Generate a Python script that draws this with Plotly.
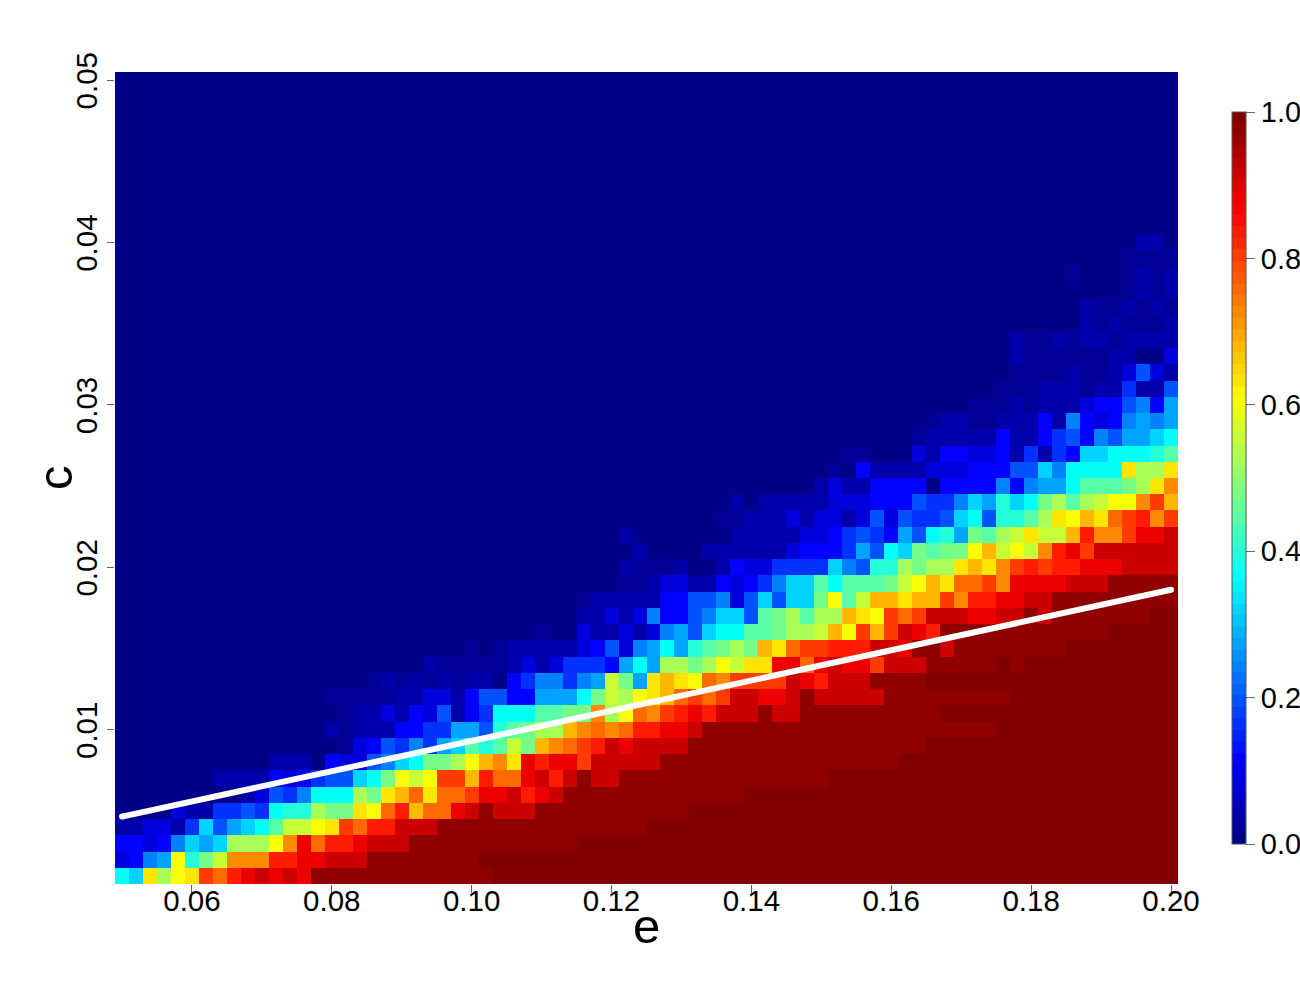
import numpy as np
import plotly.graph_objs as go

# axes
e_values = [round(0.05 + 0.002 * i, 3) for i in range(76)]
c_values = [round(0.001 * (i + 1), 3) for i in range(50)]
x_ticks = [0.06, 0.08, 0.10, 0.12, 0.14, 0.16, 0.18, 0.20]
y_ticks = [0.01, 0.02, 0.03, 0.04, 0.05]
bar_ticks = [0.0, 0.2, 0.4, 0.6, 0.8, 1.0]

# white line
line_e = [0.05, 0.20]
line_c = [0.00465, 0.01862]

# values, one char per cell, bottom row first
# '.' = 0.02, 'o' = 0.98, the rest of 0-9a-p in steps of 0.04 (p = 1.0)
codes = "0123456789abcdefghijklmnop"
rows_low = [
    "98gdfgkjlm nmnmoooooo ooooooo",
    "2367faceii illmmnnnoo oooooo",
    "33236878dd dfimjllmnn nooooooooo ooo",
    "1122148578 9beefgkjll nnnooooooo oooooooo",
    "0000211445 49aadccgfj lhjjmnonnn oooooooooo o",
    "0000000001 2546999dcg hjgjjkmmnl mnoooooooo ooooo",
    "0000000111 132345589c fefkkhljjm nlnonnoooo oooooooooo o",
    "0000000000 0111032256 89ccdfhigm lmmknnnnno oooooooooo oooooo",
    "0000000000 000000.235 46478babec hijklnmnnn nooooooooo oooooooo",
    "0000000000 000001.111 3344775abc ddhijijllm mnoooooooo oooooooooo ooo",
    "0000000000 000000.112 1325134999 bbccidfjik lmlnnnonno ooooooooo",
    "0000000000 00000..... 1122135533 7779cedfgh jkjknnmmno nnnnnooooo oooo",
    "0000000000 00000000.1 .1.1.11034 66467ec7gh gfjikkkknm lnnnoooo",
    "0000000000 0000000000 001.....12 124443797d dcdfeggmmj mnmmknnnoo ooopo",
    "0000000000 0000000000 00000.0.11 1112352679 7abcdchgjk klllnnmoon oooooooo",
]
# these end at the right edge of the plot
rows_high = [
    ".002112126 75899bbcdd ehfkhknmlo oooooooooo oppppp",
    "0001121263 356885bcdb ddhgfkjknn nmmnnonooo oooopp",
    "000.111113 3556258588 cfbehhghhk illmmnnooo oooooo",
    "000000..12 2113234688 b9bbbcefhg jjkimmmmnn nooooo",
    "0000001... 1001322444 4865aadcdd ghgiklkllm mmnnnn",
    "0000000100 0011111123 3347598cbc cfhefeilmk nnnnnn",
    "0000001000 0000111112 234543759a 7cbdegeehl iikmmn",
    "0000000000 000..11121 2212525445 895aabdgfh gjklik",
    "0000000000 0000101111 1222333544 687a89cdbd effikh",
    "0000000000 0000000000 1211333303 333636779b bbcdgi",
    "0.03111122 2333558699 99gddg",
    "00..000213 3223141438 8999ab",
    "0000000.11 1113113453 657789",
    "00000000.1 1..1113163 236767",
    "0...1.1112 335637",
    "000...111. 114115",
    "0000....1. .12521",
    "00001..... .11002",
    "00001..1.1 1.1111",
    "0000000001 .1...1",
    "0000000001 ..1.1.",
    "00.1.1",
    "00000000.0 00.1.1",
    "00....",
    "000110",
]


def decode(row):
    values = []
    for ch in row:
        if ch == ".":
            values.append(0.02)
        elif ch == "o":
            values.append(0.98)
        else:
            values.append(codes.index(ch) * 0.04)
    return values


z = [decode(r.replace(" ", "").ljust(76, "p")) for r in rows_low]
z += [decode(r.replace(" ", "").rjust(76, "0")) for r in rows_high]
z += [[0.0] * 76 for _ in range(50 - len(z))]

# 64 band jet, like the stepped colour bar
stops = [0, 0.11, 0.36, 0.61, 0.87, 1]
reds = [0, 0, 0, 255, 255, 128]
greens = [0, 0, 255, 255, 0, 0]
blues = [136, 255, 255, 0, 0, 0]
colorscale = []
for i in range(64):
    mid = i / 63
    col = "rgb(%d,%d,%d)" % (np.interp(mid, stops, reds), np.interp(mid, stops, greens), np.interp(mid, stops, blues))
    colorscale.append([i / 64, col])
    colorscale.append([(i + 1) / 64, col])

font_name = "Liberation Sans"

trace0 = go.Heatmap(x=e_values, y=c_values, z=z, zmin=0, zmax=1,
                    colorscale=colorscale,
                    colorbar=dict(x=1.0508, xanchor='left', xpad=0, ypad=0,
                                  y=0.5, yanchor='middle', len=0.9015,
                                  thickness=14, thicknessmode='pixels',
                                  tickvals=bar_ticks, tickformat='.1f',
                                  ticks='outside', ticklen=9, tickwidth=1, tickcolor='#666666',
                                  outlinewidth=1, outlinecolor='#555555',
                                  tickfont=dict(family=font_name, size=29, color='black'))
                    )
trace1 = go.Scatter(x=line_e, y=line_c, mode='lines+markers',
                    line=dict(color='white', width=6),
                    marker=dict(color='white', size=6),
                    showlegend=False, hoverinfo='skip')

layout = go.Layout(width=1300, height=1000, autosize=False,
                   margin=dict(l=115, r=122, t=72, b=116, autoexpand=False),
                   plot_bgcolor='white', paper_bgcolor='white',
                   xaxis=dict(range=[0.049, 0.201], tickvals=x_ticks, tickformat='.2f',
                              ticks='outside', ticklen=8, tickwidth=1, tickcolor='#666666',
                              ticklabelstandoff=-17,
                              showgrid=False, zeroline=False, showline=False,
                              tickfont=dict(family=font_name, size=29.5, color='black')),
                   yaxis=dict(range=[0.0005, 0.0505], tickvals=y_ticks, tickformat='.2f',
                              tickangle=-90, ticks='outside', ticklen=7, tickwidth=1, tickcolor='#666666',
                              ticklabelstandoff=-2, ticklabelshift=5,
                              showgrid=False, zeroline=False, showline=False,
                              tickfont=dict(family=font_name, size=29.5, color='black')),
                   annotations=[
                       dict(text='e', xref='paper', yref='paper', x=0.5, y=-0.0517, showarrow=False,
                            xanchor='center', yanchor='middle',
                            font=dict(family=font_name, size=49, color='black')),
                       dict(text='c', xref='paper', yref='paper', x=-0.0564, y=0.5, showarrow=False,
                            textangle=-90, xanchor='center', yanchor='middle',
                            font=dict(family=font_name, size=49, color='black')),
                   ])

fig = go.Figure(data=[trace0, trace1], layout=layout)
# the page body has an 8px margin by default, drop it so the figure fills the window
fig.write_html("out.html", config={'displayModeBar': False},
               post_script="document.body.style.margin='0';")
